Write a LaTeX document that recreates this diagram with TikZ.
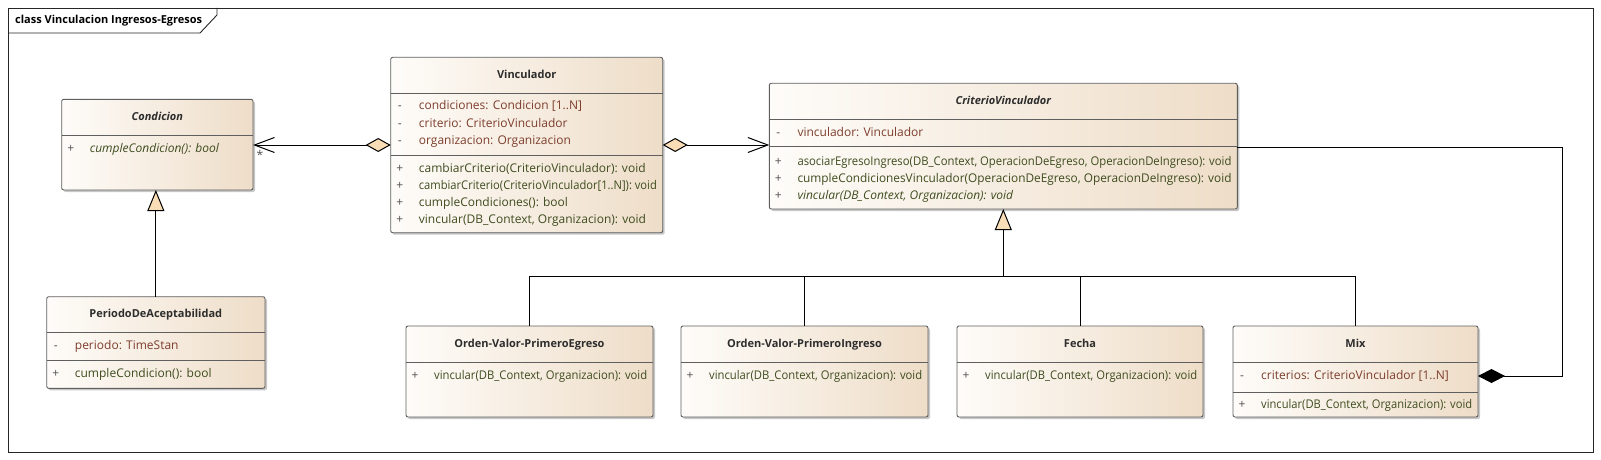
\documentclass[tikz,border=0pt]{standalone}
\usepackage{fontspec}
\setmainfont{Open Sans}
\usetikzlibrary{arrows.meta,shadows,calc}
\definecolor{bord}{RGB}{95,95,95}
\definecolor{attrc}{RGB}{125,62,45}
\definecolor{methc}{RGB}{62,76,30}
\definecolor{namec}{RGB}{45,45,45}
\definecolor{visc}{RGB}{80,80,80}
\definecolor{fillL}{RGB}{254,252,249}
\definecolor{fillR}{RGB}{238,221,200}
\definecolor{peach}{RGB}{248,221,182}
\newsavebox\fitbox
\newlength\fitw
\newcommand{\fitto}[1]{\sbox\fitbox{#1}\ifdim\wd\fitbox>\fitw\resizebox{\fitw}{\ht\fitbox}{\usebox\fitbox}\else\usebox\fitbox\fi}
\newcommand{\umlrow}[7]{%
  \node[vis] (#1v) at (#2+9,#4) {#5};
  \setlength\fitw{#3pt}\addtolength\fitw{-34pt}%
  \node[#6] (#1) at (#2+28,#4) {\fitto{#7}};
}
\newcommand{\mfont}{\fontsize{12}{14}\selectfont}
\newcommand{\nfont}{\fontsize{11}{13}\selectfont}
\tikzset{
  classbox/.style={draw=bord, line width=0.9pt, rounded corners=2pt, left color=fillL, right color=fillR,
    drop shadow={shadow xshift=2pt, shadow yshift=-2pt, fill=black, opacity=0.22},
    anchor=north west, inner sep=0pt, outer sep=0pt},
  sepline/.style={draw=bord, line width=0.9pt},
  txt/.style={font=\mfont, text height=9pt, text depth=3pt},
  cname/.style={font=\nfont\bfseries, text height=8pt, text depth=2.5pt, text=namec, inner sep=0pt},
  vis/.style={txt, text=visc, inner sep=0pt},
  attr/.style={txt, text=attrc, anchor=west, inner sep=0pt},
  meth/.style={txt, text=methc, anchor=west, inner sep=0pt},
  imeth/.style={meth, font=\mfont\itshape},
  conn/.style={draw=black, line width=1pt},
  aggtip/.style={{Diamond[length=25pt,width=14pt,fill=peach]}-{Straight Barb[length=20pt,width=15pt]}},
  gentip/.style={-{Triangle[length=21pt,width=17pt,fill=peach]}},
}
\begin{document}
\begin{tikzpicture}[x=1pt,y=-1pt]
\useasboundingbox (0,0) rectangle (1601,460);
% frame
\draw[draw=black!85, line width=0.9pt] (8,8) rectangle (1593,452);
\draw[draw=black!85, line width=0.9pt] (8,33) -- (200,33) -- (217,15) -- (217,8);
\node[cname, text=black, anchor=west] (title) at (15,20.5) {class Vinculacion Ingresos-Egresos};

% ---- Condicion
\node[classbox, minimum width=191.3pt, minimum height=90.7pt] (cond) at (61.7,99.3) {};
\draw[sepline] (61.7,135) -- (253,135);
\node[cname, font=\nfont\bfseries\itshape] (condn) at (157.3,118) {Condicion};
\umlrow{cond1}{61.7}{191.3}{149}{+}{imeth}{cumpleCondicion(): bool}

% ---- Vinculador
\node[classbox, minimum width=272pt, minimum height=175.4pt] (vinc) at (390.7,57.3) {};
\draw[sepline] (390.7,93.3) -- (662.7,93.3);
\draw[sepline] (390.7,155) -- (662.7,155);
\node[cname] (vincn) at (526.7,76) {Vinculador};
\umlrow{vinca1}{390.7}{272}{107}{-}{attr}{condiciones: Condicion [1..N]}
\umlrow{vinca2}{390.7}{272}{124}{-}{attr}{criterio: CriterioVinculador}
\umlrow{vinca3}{390.7}{272}{141}{-}{attr}{organizacion: Organizacion}
\umlrow{vincm1}{390.7}{272}{169}{+}{meth}{cambiarCriterio(CriterioVinculador): void}
\umlrow{vincm2}{390.7}{272}{186}{+}{meth}{cambiarCriterio(CriterioVinculador[1..N]): void}
\umlrow{vincm3}{390.7}{272}{203}{+}{meth}{cumpleCondiciones(): bool}
\umlrow{vincm4}{390.7}{272}{220}{+}{meth}{vincular(DB\_Context, Organizacion): void}

% ---- CriterioVinculador
\node[classbox, minimum width=468pt, minimum height=125.7pt] (cv) at (769.3,83.3) {};
\draw[sepline] (769.3,119) -- (1237.3,119);
\draw[sepline] (769.3,146) -- (1237.3,146);
\node[cname, font=\nfont\bfseries\itshape] (cvn) at (1003.3,102) {CriterioVinculador};
\umlrow{cva1}{769.3}{468}{133}{-}{attr}{vinculador: Vinculador}
\umlrow{cvm1}{769.3}{468}{162}{+}{meth}{asociarEgresoIngreso(DB\_Context, OperacionDeEgreso, OperacionDeIngreso): void}
\umlrow{cvm2}{769.3}{468}{179}{+}{meth}{cumpleCondicionesVinculador(OperacionDeEgreso, OperacionDeIngreso): void}
\umlrow{cvm3}{769.3}{468}{196}{+}{imeth}{vincular(DB\_Context, Organizacion): void}

% ---- PeriodoDeAceptabilidad
\node[classbox, minimum width=218.3pt, minimum height=91.6pt] (per) at (46.7,296.7) {};
\draw[sepline] (46.7,332.3) -- (265,332.3);
\draw[sepline] (46.7,360) -- (265,360);
\node[cname] (pern) at (155.8,315) {PeriodoDeAceptabilidad};
\umlrow{pera1}{46.7}{218.3}{346}{-}{attr}{periodo: TimeStan}
\umlrow{perm1}{46.7}{218.3}{374}{+}{meth}{cumpleCondicion(): bool}

% ---- subclasses
\node[classbox, minimum width=247pt, minimum height=91pt] (ovpe) at (406,326) {};
\draw[sepline] (406,362) -- (653,362);
\node[cname] (ovpen) at (529.5,345) {Orden-Valor-PrimeroEgreso};
\umlrow{ovpem1}{406}{247}{376}{+}{meth}{vincular(DB\_Context, Organizacion): void}

\node[classbox, minimum width=247pt, minimum height=91pt] (ovpi) at (681,326) {};
\draw[sepline] (681,362) -- (928,362);
\node[cname] (ovpin) at (804.5,345) {Orden-Valor-PrimeroIngreso};
\umlrow{ovpim1}{681}{247}{376}{+}{meth}{vincular(DB\_Context, Organizacion): void}

\node[classbox, minimum width=246pt, minimum height=91pt] (fecha) at (957,326) {};
\draw[sepline] (957,362) -- (1203,362);
\node[cname] (fechan) at (1080,345) {Fecha};
\umlrow{fecham1}{957}{246}{376}{+}{meth}{vincular(DB\_Context, Organizacion): void}

\node[classbox, minimum width=245pt, minimum height=91pt] (mix) at (1233,326) {};
\draw[sepline] (1233,362) -- (1478,362);
\draw[sepline] (1233,392) -- (1478,392);
\node[cname] (mixn) at (1355.5,345) {Mix};
\umlrow{mixa1}{1233}{245}{376}{-}{attr}{criterios: CriterioVinculador [1..N]}
\umlrow{mixm1}{1233}{245}{405}{+}{meth}{vincular(DB\_Context, Organizacion): void}

% ---- connectors
\draw[conn, aggtip] (vinc.west) -- (vinc.west -| cond.east)
  node[pos=1, anchor=north west, inner sep=0pt, xshift=3pt, yshift=-5pt, font=\mfont, text=visc] (star) {*};
\draw[conn, aggtip] (vinc.east) -- (vinc.east -| cv.west);
\draw[conn, gentip] (per.north) -- (per.north |- cond.south);

\coordinate (bus) at (1003.3,276);
\draw[conn] (ovpe.north) |- (bus -| mix.north) -- (mix.north);
\draw[conn] (ovpi.north) -- (ovpi.north |- bus);
\draw[conn] (fecha.north) -- (fecha.north |- bus);
\draw[conn, gentip] (bus) -- (cv.south);

\coordinate (corner) at (1562,147);
\coordinate (mixrow) at (1478,376);
\draw[conn, -{Diamond[length=27pt,width=14pt,fill=black]}] (cv.east |- corner) -- (corner) |- (mixrow);
\end{tikzpicture}
\end{document}
